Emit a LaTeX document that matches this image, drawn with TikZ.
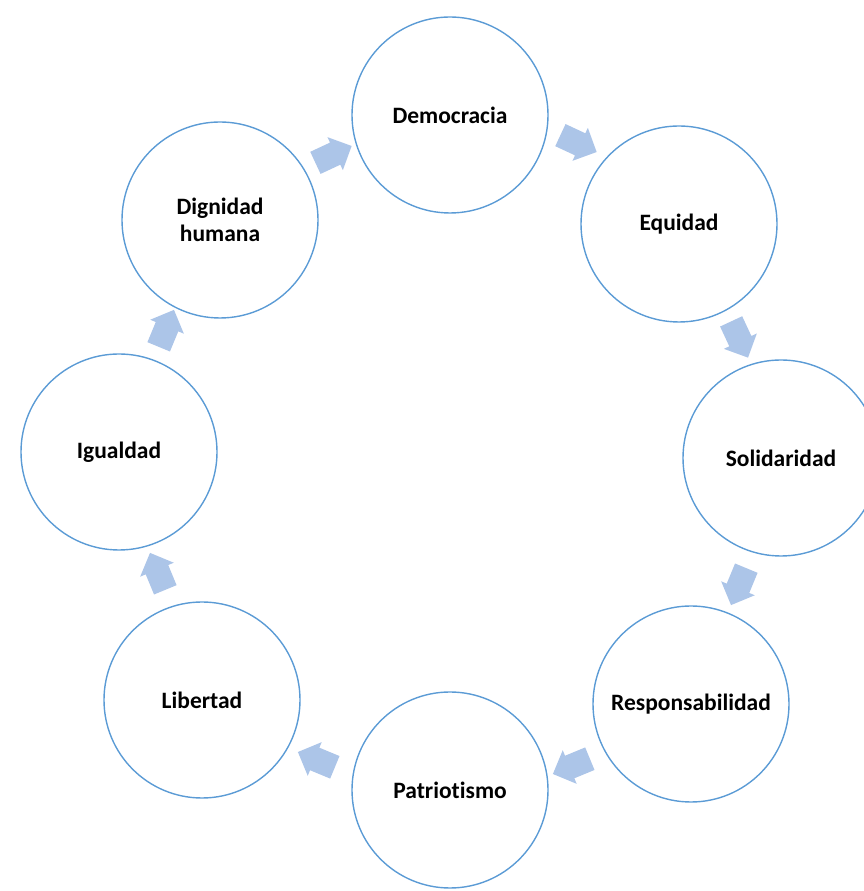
\documentclass[tikz,border=0pt]{standalone}
\usepackage{fontspec}
\setmainfont{Carlito}[Ligatures=NoCommon]
\usepackage{tikz}
\usetikzlibrary{shapes,arrows,positioning}
\definecolor{ringblue}{RGB}{91,155,213}
\definecolor{arrowblue}{RGB}{172,197,232}
\tikzstyle{valor} = [draw=ringblue, circle, line width=1.4pt, minimum size=196pt, inner sep=0pt, align=center, font=\fontsize{23.5}{27}\selectfont\bfseries]
\tikzstyle{flecha} = [single arrow, fill=arrowblue, draw=none, minimum height=40pt, inner xsep=0pt, inner ysep=12pt, single arrow head extend=6pt]

\begin{document}
\begin{tikzpicture}[x=1pt, y=1pt]
	\useasboundingbox (0,0) rectangle (864,891);
	\node [valor] (dem) at (450,776) {Democracia};
	\node [valor, right of=dem, node distance=229pt, yshift=-109pt] (equ) {Equidad};
	\node [valor, below of=equ, node distance=234pt, xshift=102pt] (sol) {Solidaridad};
	\node [valor, below of=sol, node distance=246pt, xshift=-90pt] (res) {Responsabilidad};
	\node [valor, left of=res, node distance=241pt, yshift=-86pt] (pat) {Patriotismo};
	\node [valor, left of=pat, node distance=248pt, yshift=90pt] (lib) {Libertad};
	\node [valor, above of=lib, node distance=248pt, xshift=-83pt] (igu) {Igualdad};
	\node [valor, above of=igu, node distance=232pt, xshift=101pt] (dig) {Dignidad\\humana};
	
	\node [flecha, rotate=25] (digdem) at (328,734) {};
	\node [flecha, rotate=-25] (demequ) at (573,750) {};
	\node [flecha, rotate=-65] (equsol) at (737,557) {};
	\node [flecha, rotate=-112.5] (solres) at (741,310) {};
	\node [flecha, rotate=-157.5] (respat) at (577,127) {};
	\node [flecha, rotate=157.5] (patlib) at (322,129) {};
	\node [flecha, rotate=112.5] (libigu) at (160,314) {};
	\node [flecha, rotate=67.5] (igudig) at (164,557) {};
	
\end{tikzpicture}
\end{document}
